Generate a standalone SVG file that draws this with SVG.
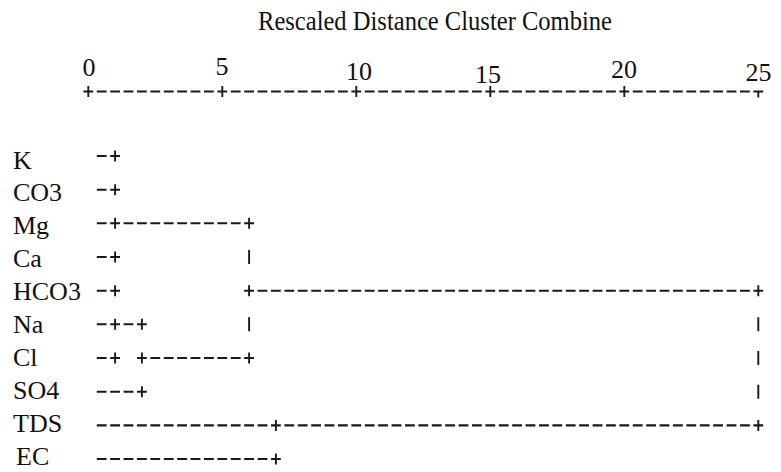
<svg xmlns="http://www.w3.org/2000/svg" width="781" height="472" viewBox="0 0 781 472">
<style>
  .t{font-family:"Liberation Serif","Times New Roman",serif;fill:#111}
  .lbl{font-size:26px}
  .num{font-size:26px;text-anchor:middle}
  .dl{stroke:#1a1a1a;stroke-width:2.1;fill:none;stroke-dasharray:9.8 3.6}
  .tk{stroke:#1a1a1a;stroke-width:1.9;fill:none}
</style>
<rect width="781" height="472" fill="#fff"/>
<g id="title">
  <text class="t" x="258" y="30" font-size="27" textLength="354" lengthAdjust="spacingAndGlyphs">Rescaled Distance Cluster Combine</text>
</g>
<g id="axis">
  <text class="t num" x="89" y="76">0</text>
  <text class="t num" x="222" y="75">5</text>
  <text class="t num" x="359" y="80">10</text>
  <text class="t num" x="488" y="83">15</text>
  <text class="t num" x="624" y="78">20</text>
  <text class="t num" x="758.5" y="81">25</text>
  <path class="dl" d="M83.4 91.5H763.2"/>
  <path class="tk" d="M88.3 86V97M222.3 86V97M356.3 86V97M490.3 86V97M624.3 86V97M758.3 91.5V97.5"/>
</g>
<g id="node-K"><text class="t lbl" x="13" y="168.5">K</text></g>
<g id="node-CO3"><text class="t lbl" x="13" y="201.4">CO3</text></g>
<g id="node-Mg"><text class="t lbl" x="13" y="234.3">Mg</text></g>
<g id="node-Ca"><text class="t lbl" x="13" y="267.2">Ca</text></g>
<g id="node-HCO3"><text class="t lbl" x="13" y="300.1">HCO3</text></g>
<g id="node-Na"><text class="t lbl" x="13" y="333">Na</text></g>
<g id="node-Cl"><text class="t lbl" x="13" y="365.9">Cl</text></g>
<g id="node-SO4"><text class="t lbl" x="13" y="398.8">SO4</text></g>
<g id="node-TDS"><text class="t lbl" x="13" y="431.7">TDS</text></g>
<g id="node-EC"><text class="t lbl" x="16" y="464.6">EC</text></g>
<g id="connectors">
  <!-- K -->
  <path class="dl" d="M96.8 156H120"/>
  <path class="tk" d="M115.1 150.5V161.5"/>
  <!-- CO3 -->
  <path class="dl" d="M96.8 189.7H120"/>
  <path class="tk" d="M115.1 184.2V195.2"/>
  <!-- Mg -->
  <path class="dl" d="M96.8 223.3H254"/>
  <path class="tk" d="M115.1 217.8V228.8M249.1 217.8V228.8"/>
  <!-- Ca -->
  <path class="dl" d="M96.8 257H120"/>
  <path class="tk" d="M115.1 251.5V262.5M249.1 250V264"/>
  <!-- HCO3 -->
  <path class="dl" d="M96.8 290.7H120M244.2 290.7H763.2"/>
  <path class="tk" d="M115.1 285.2V296.2M249.1 285.2V296.2M758.3 285.2V296.2"/>
  <!-- Na -->
  <path class="dl" d="M96.8 324.3H146.8"/>
  <path class="tk" d="M115.1 318.8V329.8M141.9 318.8V329.8M249.1 317.3V331.3M758.3 317.3V331.3"/>
  <!-- Cl -->
  <path class="dl" d="M96.8 358H120M137 358H254"/>
  <path class="tk" d="M115.1 352.5V363.5M141.9 352.5V363.5M249.1 352.5V363.5M758.3 351V365"/>
  <!-- SO4 -->
  <path class="dl" d="M96.8 391.7H146.8"/>
  <path class="tk" d="M141.9 386.2V397.2M758.3 384.7V398.7"/>
  <!-- TDS -->
  <path class="dl" d="M96.8 425.4H763.2"/>
  <path class="tk" d="M275.9 419.9V430.9M758.3 419.9V430.9"/>
  <!-- EC -->
  <path class="dl" d="M96.8 459H280.8"/>
  <path class="tk" d="M275.9 453.5V464.5"/>
</g>
</svg>
